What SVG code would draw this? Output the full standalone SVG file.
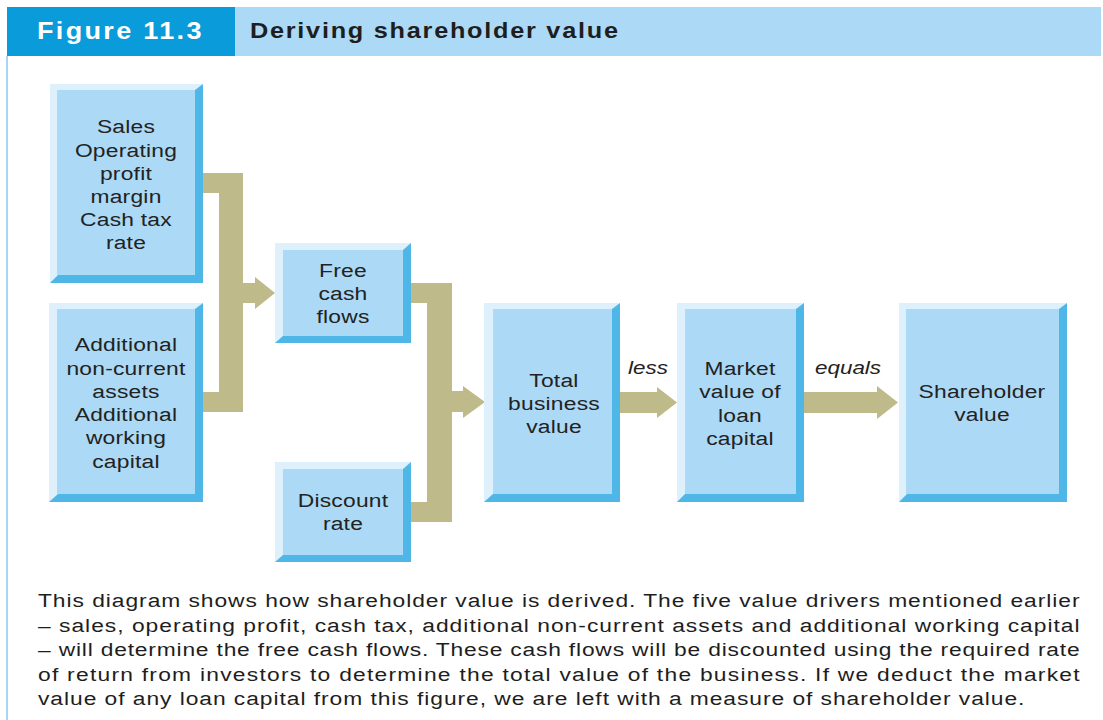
<svg xmlns="http://www.w3.org/2000/svg" width="1103" height="720" viewBox="0 0 1103 720">
  <defs>
    <style>
      .hi { fill: #def0fb; }
      .lo { fill: #4fb6e8; }
      .face { fill: #acd9f5; }
      .lbl { font-family: "Liberation Sans", Arial, sans-serif; font-size: 19px; fill: #222; text-anchor: middle; letter-spacing: 0.2px; }
      .op { font-family: "Liberation Sans", Arial, sans-serif; font-size: 19px; font-style: italic; fill: #222; }
      .flow { fill: #bfba89; }
      .body { font-family: "Liberation Sans", Arial, sans-serif; font-size: 19px; fill: #1e1e1e; }
    </style>
  </defs>

  <rect x="0" y="0" width="1103" height="720" fill="#ffffff"/>

  <!-- title band -->
  <g id="header">
    <rect x="235" y="7" width="866" height="49" fill="#acd9f5"/>
    <rect x="7" y="7" width="228" height="49" fill="#0a9bdb"/>
    <text transform="matrix(1.15 0 0 1 37 39)" font-family="Liberation Sans, Arial, sans-serif" font-size="23.5" font-weight="bold" fill="#ffffff" textLength="143" lengthAdjust="spacing">Figure 11.3</text>
    <text transform="matrix(1.15 0 0 1 250 38)" font-family="Liberation Sans, Arial, sans-serif" font-size="22" font-weight="bold" fill="#1e1e1e" textLength="320" lengthAdjust="spacing">Deriving shareholder value</text>
    <rect x="6" y="56" width="2" height="664" fill="#a9d6f2"/>
  </g>

  <!-- connectors -->
  <g id="connectors">
    <polygon class="flow" points="203,173 243,173 243,283 255,283 255,277 275,293 255,309 255,303 243,303 243,412 203,412 203,392 219,392 219,193 203,193"/>
    <polygon class="flow" points="411,283 452,283 452,391 463,391 463,386 485,402 463,418 463,412 452,412 452,522 411,522 411,502 427,502 427,303 411,303"/>
    <polygon class="flow" points="620,392 657,392 657,387 677,402.5 657,418 657,413 620,413"/>
    <polygon class="flow" points="804,392 877,392 877,386 898,402.5 877,419 877,413 804,413"/>
    <text class="op" transform="matrix(1.18 0 0 1 628 374)">less</text>
    <text class="op" transform="matrix(1.18 0 0 1 815 374)">equals</text>
  </g>

  <!-- value drivers -->
  <g id="node-sales">
    <rect class="hi" x="50" y="84" width="153" height="199"/>
    <polygon class="lo" points="203,84 203,283 50,283 58,275 195,275 195,90"/>
    <rect class="face" x="57" y="90" width="138" height="185"/>
    <text class="lbl" transform="matrix(1.2 0 0 1 126 133)">Sales</text>
    <text class="lbl" transform="matrix(1.2 0 0 1 126 157)">Operating</text>
    <text class="lbl" transform="matrix(1.2 0 0 1 126 180)">profit</text>
    <text class="lbl" transform="matrix(1.2 0 0 1 126 203)">margin</text>
    <text class="lbl" transform="matrix(1.2 0 0 1 126 226)">Cash tax</text>
    <text class="lbl" transform="matrix(1.2 0 0 1 126 249)">rate</text>
  </g>

  <g id="node-investment">
    <rect class="hi" x="49" y="303" width="154" height="199"/>
    <polygon class="lo" points="203,303 203,502 49,502 58,494 195,494 195,309"/>
    <rect class="face" x="57" y="309" width="138" height="185"/>
    <text class="lbl" transform="matrix(1.2 0 0 1 126 351)">Additional</text>
    <text class="lbl" transform="matrix(1.2 0 0 1 126 375)">non-current</text>
    <text class="lbl" transform="matrix(1.2 0 0 1 126 398)">assets</text>
    <text class="lbl" transform="matrix(1.2 0 0 1 126 421)">Additional</text>
    <text class="lbl" transform="matrix(1.2 0 0 1 126 444)">working</text>
    <text class="lbl" transform="matrix(1.2 0 0 1 126 468)">capital</text>
  </g>

  <g id="node-free-cash-flows">
    <rect class="hi" x="275" y="243" width="136" height="100"/>
    <polygon class="lo" points="411,243 411,343 275,343 283,336 403,336 403,250"/>
    <rect class="face" x="283" y="250" width="120" height="86"/>
    <text class="lbl" transform="matrix(1.2 0 0 1 343 277)">Free</text>
    <text class="lbl" transform="matrix(1.2 0 0 1 343 300)">cash</text>
    <text class="lbl" transform="matrix(1.2 0 0 1 343 323)">flows</text>
  </g>

  <g id="node-discount-rate">
    <rect class="hi" x="275" y="462" width="136" height="100"/>
    <polygon class="lo" points="411,462 411,562 275,562 283,555 403,555 403,469"/>
    <rect class="face" x="283" y="469" width="120" height="86"/>
    <text class="lbl" transform="matrix(1.2 0 0 1 343 507)">Discount</text>
    <text class="lbl" transform="matrix(1.2 0 0 1 343 530)">rate</text>
  </g>

  <g id="node-total-business-value">
    <rect class="hi" x="484" y="303" width="136" height="199"/>
    <polygon class="lo" points="620,303 620,502 484,502 493,494 612,494 612,309"/>
    <rect class="face" x="493" y="309" width="119" height="185"/>
    <text class="lbl" transform="matrix(1.2 0 0 1 554 387)">Total</text>
    <text class="lbl" transform="matrix(1.2 0 0 1 554 410)">business</text>
    <text class="lbl" transform="matrix(1.2 0 0 1 554 433)">value</text>
  </g>

  <g id="node-loan-capital">
    <rect class="hi" x="677" y="303" width="127" height="199"/>
    <polygon class="lo" points="804,303 804,502 677,502 685,494 796,494 796,309"/>
    <rect class="face" x="685" y="309" width="111" height="185"/>
    <text class="lbl" transform="matrix(1.2 0 0 1 740 375)">Market</text>
    <text class="lbl" transform="matrix(1.2 0 0 1 740 398)">value of</text>
    <text class="lbl" transform="matrix(1.2 0 0 1 740 422)">loan</text>
    <text class="lbl" transform="matrix(1.2 0 0 1 740 445)">capital</text>
  </g>

  <g id="node-shareholder-value">
    <rect class="hi" x="899" y="303" width="168" height="199"/>
    <polygon class="lo" points="1067,303 1067,502 899,502 907,494 1059,494 1059,309"/>
    <rect class="face" x="906" y="309" width="153" height="185"/>
    <text class="lbl" transform="matrix(1.2 0 0 1 982 398)">Shareholder</text>
    <text class="lbl" transform="matrix(1.2 0 0 1 982 421)">value</text>
  </g>

  <!-- caption -->
  <g id="caption">
    <text class="body" transform="matrix(1.2 0 0 1 38 607)" textLength="868" lengthAdjust="spacing">This diagram shows how shareholder value is derived. The five value drivers mentioned earlier</text>
    <text class="body" transform="matrix(1.2 0 0 1 38 632)" textLength="868" lengthAdjust="spacing">– sales, operating profit, cash tax, additional non-current assets and additional working capital</text>
    <text class="body" transform="matrix(1.2 0 0 1 38 656)" textLength="868" lengthAdjust="spacing">– will determine the free cash flows. These cash flows will be discounted using the required rate</text>
    <text class="body" transform="matrix(1.2 0 0 1 38 681)" textLength="868" lengthAdjust="spacing">of return from investors to determine the total value of the business. If we deduct the market</text>
    <text class="body" transform="matrix(1.2 0 0 1 38 705)" textLength="822" lengthAdjust="spacing">value of any loan capital from this figure, we are left with a measure of shareholder value.</text>
  </g>
</svg>
